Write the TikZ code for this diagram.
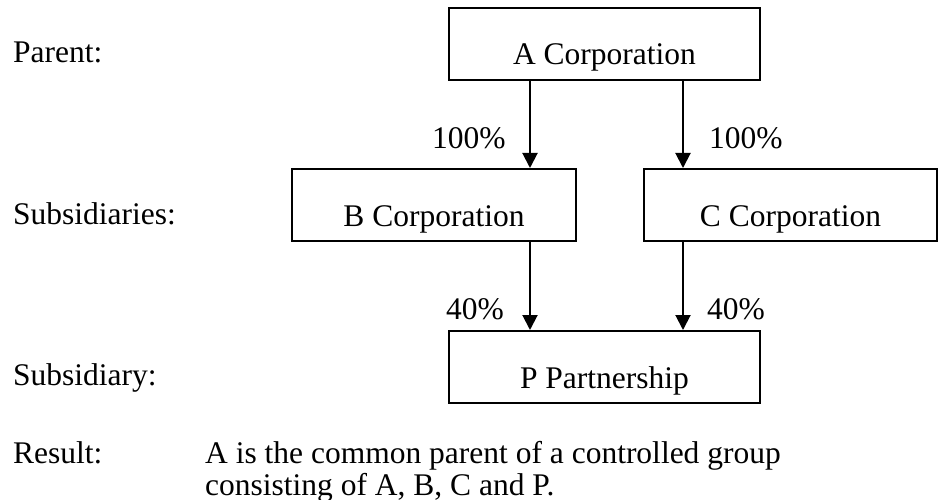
\documentclass[tikz,border=0pt]{standalone}
\usepackage{fontspec}
\setmainfont{Liberation Serif}
\usetikzlibrary{arrows.meta}
\newcommand\diafont{\fontsize{31.5}{32}\selectfont}
\begin{document}
\begin{tikzpicture}[x=1pt,y=-1pt,
  box/.style={draw,line width=2pt,inner sep=0pt,text height=57pt,text depth=15pt,anchor=base,font=\diafont},
  lbl/.style={inner sep=0pt,anchor=base west,font=\diafont},
  arr/.style={line width=2pt,-{Triangle[length=15pt,width=15pt]}}
]
\useasboundingbox (0,0) rectangle (943,500);
% boxes
\node[box,minimum width=311pt] (A) at (604.5,65) {A Corporation};
\node[box,minimum width=284pt] (B) at (434,226) {B Corporation};
\node[box,minimum width=293pt] (C) at (790.5,226) {C Corporation};
\node[box,minimum width=311pt] (P) at (604.5,388) {P Partnership};
% column coordinates for connectors
\coordinate (xl) at (530,0);
\coordinate (xr) at (683,0);
\draw[arr] (A.south -| xl) -- (B.north -| xl);
\draw[arr] (A.south -| xr) -- (C.north -| xr);
\draw[arr] (B.south -| xl) -- (P.north -| xl);
\draw[arr] (C.south -| xr) -- (P.north -| xr);
% percentages
\node[lbl] (p1) at (432,149) {100\%};
\node[lbl] (p2) at (709,149) {100\%};
\node[lbl] (p3) at (446,319) {40\%};
\node[lbl] (p4) at (707,319) {40\%};
% row labels
\node[lbl] (l1) at (13,63) {Parent:};
\node[lbl] (l2) at (13,225) {Subsidiaries:};
\node[lbl] (l3) at (13,385) {Subsidiary:};
\node[lbl] (l4) at (13,463) {Result:};
\node[lbl] (r1) at (205,463) {A is the common parent of a controlled group};
\node[lbl] (r2) at (205,495) {consisting of A, B, C and P.};
\end{tikzpicture}
\end{document}
